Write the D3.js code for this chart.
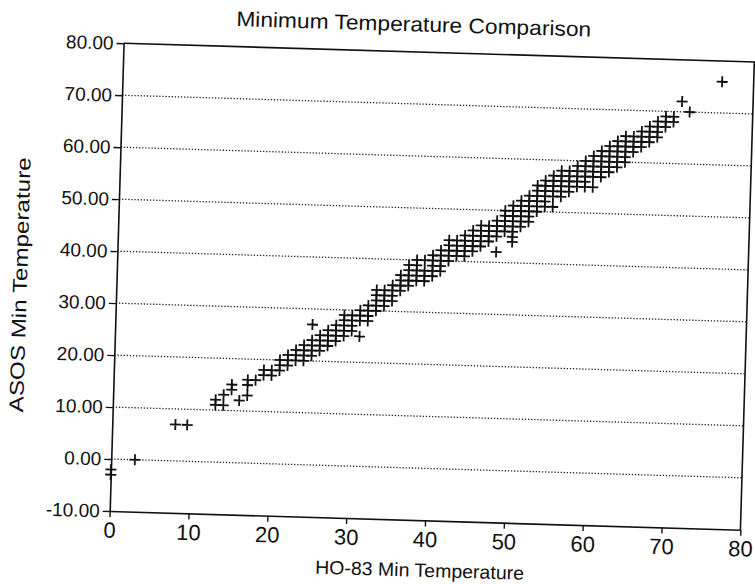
<!DOCTYPE html>
<html>
<head>
<meta charset="utf-8">
<script src="https://cdn.jsdelivr.net/npm/d3@7"></script>
<style>
  body { margin: 0; background: #fff; }
  text { font-family: "Liberation Sans", Arial, sans-serif; fill: #111; }
</style>
</head>
<body>
<div id="chart"></div>
<script>
// Chart text
const chartTitle = "Minimum Temperature Comparison";
const xTitle = "HO-83 Min Temperature";
const yTitle = "ASOS Min Temperature";

// Tick values
const xTicks = [0, 10, 20, 30, 40, 50, 60, 70, 80];
const yTicks = [-10, 0, 10, 20, 30, 40, 50, 60, 70, 80];
const gridTicks = [0, 10, 20, 30, 40, 50, 60, 70];

// HO-83 min temperature (one entry per column of crosses)
const hoMin = [0, 3, 8, 9.5, 13, 14, 15, 16, 17, 18, 19, 20, 21, 22, 23, 24, 25, 26, 27, 28,
  29, 30, 31, 32, 33, 34, 35, 36, 37, 38, 39, 40, 41, 42, 43, 44, 45, 46, 47, 48,
  49, 50, 51, 52, 53, 54, 55, 56, 57, 58, 59, 60, 61, 62, 63, 64, 65, 66, 67, 68,
  69, 70, 71, 72, 76];

// ASOS min temperatures observed at each HO-83 value above
const asosMin = [
  [-3, -2], [0], [7], [7], [11, 12], [11, 13], [14, 15], [12], [13, 15, 16], [16],
  [17, 18], [17, 18], [18, 19, 20], [19, 20, 21], [20, 21, 22], [20, 21, 22, 23],
  [21, 22, 23, 24, 27], [22, 23, 24, 25], [23, 24, 25, 26], [24, 25, 26, 27],
  [25, 26, 27, 28, 29], [26, 27, 28, 29], [25, 28, 29, 30], [28, 29, 30, 31],
  [30, 31, 32, 33, 34], [31, 32, 33, 34], [32, 33, 34, 35], [34, 35, 36, 37],
  [35, 36, 37, 38, 39], [36, 37, 38, 39, 40], [36, 37, 38, 40], [37, 38, 39, 40, 41],
  [38, 39, 40, 41, 42], [40, 41, 42, 43, 44], [41, 42, 43, 44], [41, 42, 43, 44, 45],
  [42, 43, 44, 45, 46], [43, 44, 45, 46, 47], [44, 45, 46, 47], [42, 45, 46, 47, 48],
  [46, 47, 48, 49, 50], [44, 45, 46, 47, 48, 49, 50, 51], [47, 48, 49, 50, 51, 52],
  [48, 49, 50, 51, 52, 53], [50, 51, 52, 53, 54, 55], [51, 52, 53, 54, 55, 56],
  [51, 53, 54, 55, 56, 57], [53, 54, 55, 56, 57, 58], [54, 55, 56, 57, 58],
  [55, 56, 57, 58, 59], [55, 56, 57, 58, 59, 60], [55, 57, 58, 59, 60, 61],
  [57, 58, 59, 60, 61, 62], [58, 59, 60, 61, 62, 63], [59, 60, 61, 62, 63, 64],
  [60, 61, 62, 63, 64, 65], [62, 63, 64, 65], [63, 64, 65, 66], [64, 65, 66, 67],
  [65, 66, 67, 68], [67, 68, 69], [68, 69], [72], [70], [76]
];

// flatten into point list
const points = [];
hoMin.forEach((h, i) => {
  asosMin[i].forEach(a => points.push({ ho: h, asos: a }));
});

const W = 755, H = 584;
// the printed page was scanned slightly rotated
const tilt = 1.7, cx = 432, cy = 286.5;
const margin = { top: 52.5, left: 116.5 };
const width = 631, height = 468;

const svg = d3.select("#chart").append("svg")
  .attr("width", W)
  .attr("height", H);

svg.append("rect").attr("width", W).attr("height", H).attr("fill", "#fff");

const page = svg.append("g")
  .attr("transform", `rotate(${tilt},${cx},${cy})`);

const g = page.append("g")
  .attr("transform", `translate(${margin.left},${margin.top})`);

const x = d3.scaleLinear().domain([0, 80]).range([0, width]);
const y = d3.scaleLinear().domain([-10, 80]).range([height, 0]);

// dotted gridlines
g.append("g")
  .selectAll("line")
  .data(gridTicks)
  .enter()
  .append("line")
  .attr("x1", 0)
  .attr("x2", width)
  .attr("y1", d => y(d))
  .attr("y2", d => y(d))
  .attr("stroke", "#222")
  .attr("stroke-width", 1.3)
  .attr("stroke-dasharray", "1.3,1.8");

// frame top and right
g.append("path")
  .attr("d", `M0,${y(80)}H${x(80)}V${y(-10)}`)
  .attr("fill", "none")
  .attr("stroke", "#111")
  .attr("stroke-width", 1.6);

// y axis
const yAxis = d3.axisLeft(y)
  .tickValues(yTicks)
  .tickFormat(d => d.toFixed(2))
  .tickSize(7)
  .tickSizeOuter(0)
  .tickPadding(3);

const yg = g.append("g").call(yAxis);
yg.selectAll("text").style("font-size", "19px");

// x axis
const xAxis = d3.axisBottom(x)
  .tickValues(xTicks)
  .tickSize(6)
  .tickSizeOuter(0)
  .tickPadding(5);

const xg = g.append("g")
  .attr("transform", `translate(0,${height})`)
  .call(xAxis);
xg.selectAll("text").style("font-size", "22px");

[yg, xg].forEach(ax => {
  ax.select(".domain").attr("stroke", "#111").attr("stroke-width", 1.6);
  ax.selectAll(".tick line").attr("stroke", "#111").attr("stroke-width", 1.4);
  ax.selectAll("text").attr("fill", "#111").style("font-family", "'Liberation Sans', Arial, sans-serif");
});

// cross markers
g.append("g")
  .selectAll("path")
  .data(points)
  .enter()
  .append("path")
  .attr("transform", d => `translate(${x(d.ho)},${y(d.asos)})`)
  .attr("d", "M-5.5,0H5.5M0,-5.5V5.5")
  .attr("stroke", "#111")
  .attr("stroke-width", 1.8)
  .attr("fill", "none");

// titles
page.append("text")
  .attr("x", 406)
  .attr("y", 32)
  .attr("text-anchor", "middle")
  .attr("textLength", 355)
  .attr("lengthAdjust", "spacingAndGlyphs")
  .style("font-size", "21px")
  .text(chartTitle);

page.append("text")
  .attr("x", 428)
  .attr("y", 577)
  .attr("text-anchor", "middle")
  .attr("textLength", 209)
  .attr("lengthAdjust", "spacingAndGlyphs")
  .style("font-size", "19px")
  .text(xTitle);

page.append("text")
  .attr("transform", "translate(27,297) rotate(-90)")
  .attr("text-anchor", "middle")
  .attr("textLength", 255)
  .attr("lengthAdjust", "spacingAndGlyphs")
  .style("font-size", "20px")
  .text(yTitle);
</script>
</body>
</html>
